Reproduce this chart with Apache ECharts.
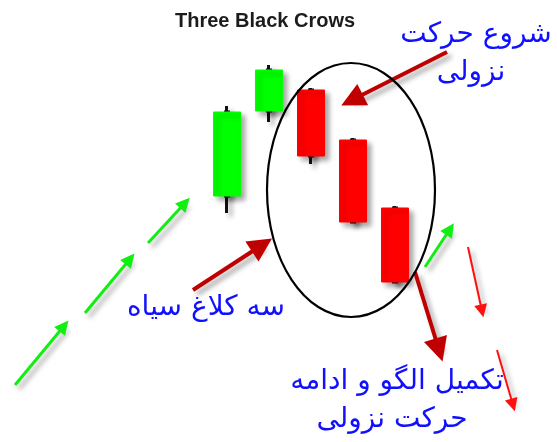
<!DOCTYPE html>
<html>
<head>
<meta charset="utf-8">
<script src="https://cdn.jsdelivr.net/npm/echarts@6/dist/echarts.min.js"></script>
<style>
  html, body { margin: 0; padding: 0; background: #fff; }
  #chart { width: 557px; height: 442px; }
</style>
</head>
<body>
<div id="chart"></div>
<script>
// 蜡烛图数据 [open, close, low, high]
const candleDays = ['1', '2', '3', '4', '5']
const candleValues = [
  [246, 330, 229, 336],
  [331, 372, 320, 377],
  [352, 286, 278, 354],
  [302, 220, 220, 304],
  [234, 160, 159, 236]
]

// 箭头 [[x1, y1], [x2, y2]]
const greenArrows = [
  [[15, 385], [64, 326]],
  [[85, 313], [130, 259]],
  [[148, 243], [185, 203]],
  [[425, 267], [450, 229]]
]
const darkRedArrows = [
  [[447, 52], [352, 100]],
  [[193, 290], [262, 245]],
  [[415, 272], [439, 350]]
]
const redArrows = [
  [[468, 247], [482, 311]],
  [[497, 350], [513, 405]]
]

// 标注文字
const titleText = 'Three Black Crows'
const noteTexts = ['شروع حرکت', 'نزولی', 'سه کلاغ سیاه', 'تکمیل الگو و ادامه', 'حرکت نزولی']

const shadow = {
  shadowBlur: 5,
  shadowColor: 'rgba(0,0,0,0.35)',
  shadowOffsetX: 4,
  shadowOffsetY: 4
}

function arrowSeries (name, data, color, width, size) {
  return {
    name: name,
    type: 'lines',
    coordinateSystem: 'cartesian2d',
    xAxisIndex: 1,
    yAxisIndex: 1,
    symbol: ['none', 'triangle'],
    symbolSize: size,
    z: 5,
    lineStyle: Object.assign({ color: color, width: width, opacity: 1 }, shadow),
    data: data.map(c => ({ coords: c }))
  }
}

// 文字标注
function note (text, x, y) {
  return {
    type: 'text',
    x: x,
    y: y,
    z: 20,
    style: { text: text, align: 'center', verticalAlign: 'middle', fill: '#1010ff', font: '28px "DejaVu Sans"' }
  }
}

const bodyValues = candleValues.map(v => [v[0], v[1], Math.min(v[0], v[1]), Math.max(v[0], v[1])])

const myChart = echarts.init(document.getElementById('chart'))
myChart.setOption({
  animation: false,
  backgroundColor: '#fff',
  title: {
    text: titleText,
    left: 170,
    top: 6,
    textStyle: { fontFamily: 'Liberation Sans', fontSize: 20, fontWeight: 'bold', color: '#1c1c1c' }
  },
  grid: [
    { left: 206, width: 210, top: 0, bottom: 0 },
    { left: 0, right: 0, top: 0, bottom: 0 }
  ],
  xAxis: [
    { type: 'category', gridIndex: 0, data: candleDays, show: false },
    { type: 'value', gridIndex: 1, min: 0, max: 557, show: false }
  ],
  yAxis: [
    { type: 'value', gridIndex: 0, min: 0, max: 442, show: false },
    { type: 'value', gridIndex: 1, min: 0, max: 442, inverse: true, show: false }
  ],
  series: [
    {
      name: 'wick',
      type: 'candlestick',
      barWidth: 3,
      itemStyle: Object.assign({
        color: '#111', color0: '#111', borderColor: '#111', borderColor0: '#111', borderWidth: 3
      }, shadow),
      data: candleValues
    },
    {
      name: 'body',
      type: 'candlestick',
      barWidth: 28,
      itemStyle: Object.assign({
        color: '#00ff00', color0: '#ff0000', borderColor: '#00ff00', borderColor0: '#ff0000', borderWidth: 1
      }, shadow),
      data: bodyValues
    },
    arrowSeries('green', greenArrows, '#11ee11', 3, 14),
    arrowSeries('darkRed', darkRedArrows, '#c00000', 4, 24),
    arrowSeries('red', redArrows, '#ff1010', 2, 13)
  ],
  graphic: [
    {
      type: 'ellipse',
      z: 10,
      shape: { cx: 351, cy: 190, rx: 84, ry: 127 },
      style: { fill: 'none', stroke: '#000', lineWidth: 2.2 }
    },
    note(noteTexts[0], 476, 35),
    note(noteTexts[1], 471, 73),
    note(noteTexts[2], 206, 308),
    note(noteTexts[3], 397, 382),
    note(noteTexts[4], 392, 420)
  ]
})
</script>
</body>
</html>
